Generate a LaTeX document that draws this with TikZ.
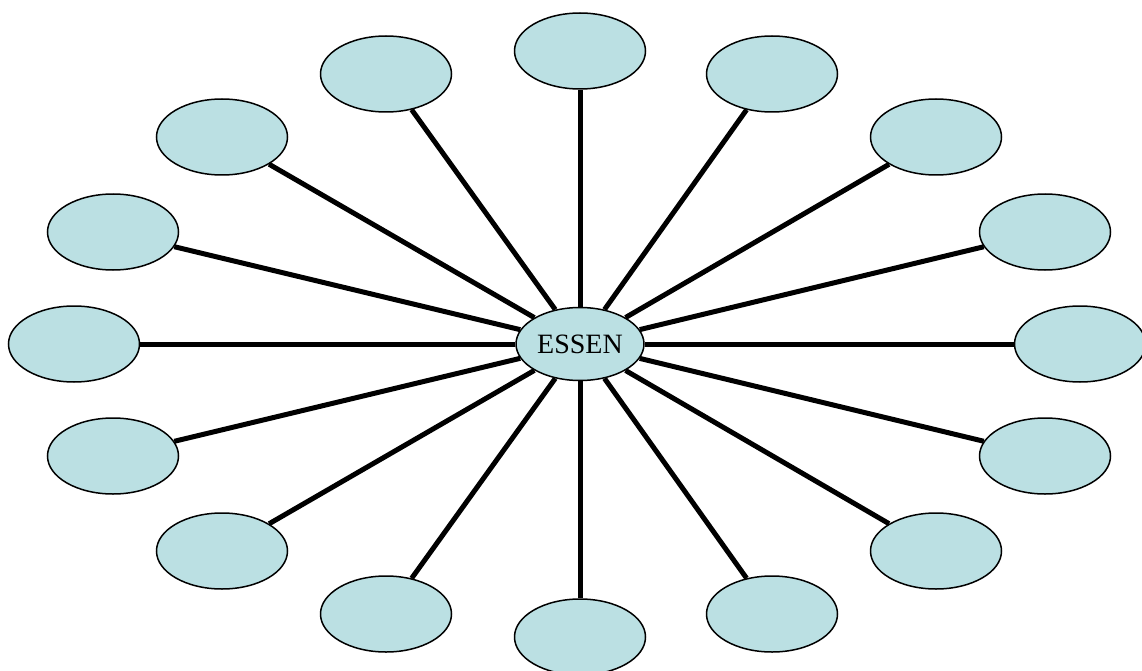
\documentclass[tikz,border=0pt]{standalone}
\usepackage{fontspec}
\setmainfont{Liberation Serif}
\usetikzlibrary{shapes.geometric}
\definecolor{bub}{HTML}{BBE0E3}
\tikzset{
  bubble/.style={ellipse, draw=black, line width=1.5pt, fill=bub, minimum width=131pt, minimum height=76pt, inner sep=0pt},
  hub/.style={bubble, minimum width=128pt, minimum height=73pt, font=\fontsize{28}{30}\selectfont},
  spoke/.style={line width=5pt}
}
\begin{document}
\begin{tikzpicture}[x=1pt,y=-1pt]
\useasboundingbox (0,0) rectangle (1142,671);
\node[hub] (c) at (580,344) {ESSEN};
\foreach \n/\x/\y in {n1/580/51, n2/386/74, n3/772/74, n4/222/137, n5/936/137,
  n6/113/232, n7/1045/232, n8/74/344, n9/1080/344, n10/113/456, n11/1045/456,
  n12/222/551, n13/936/551, n14/386/614, n15/772/614, n16/580/637}{
  \node[bubble] (\n) at (\x,\y) {};
}
\foreach \n in {n1,n2,n3,n4,n5,n6,n7,n8,n9,n10,n11,n12,n13,n14,n15,n16}{
  \draw[spoke] (c) -- (\n);
}
\end{tikzpicture}
\end{document}
